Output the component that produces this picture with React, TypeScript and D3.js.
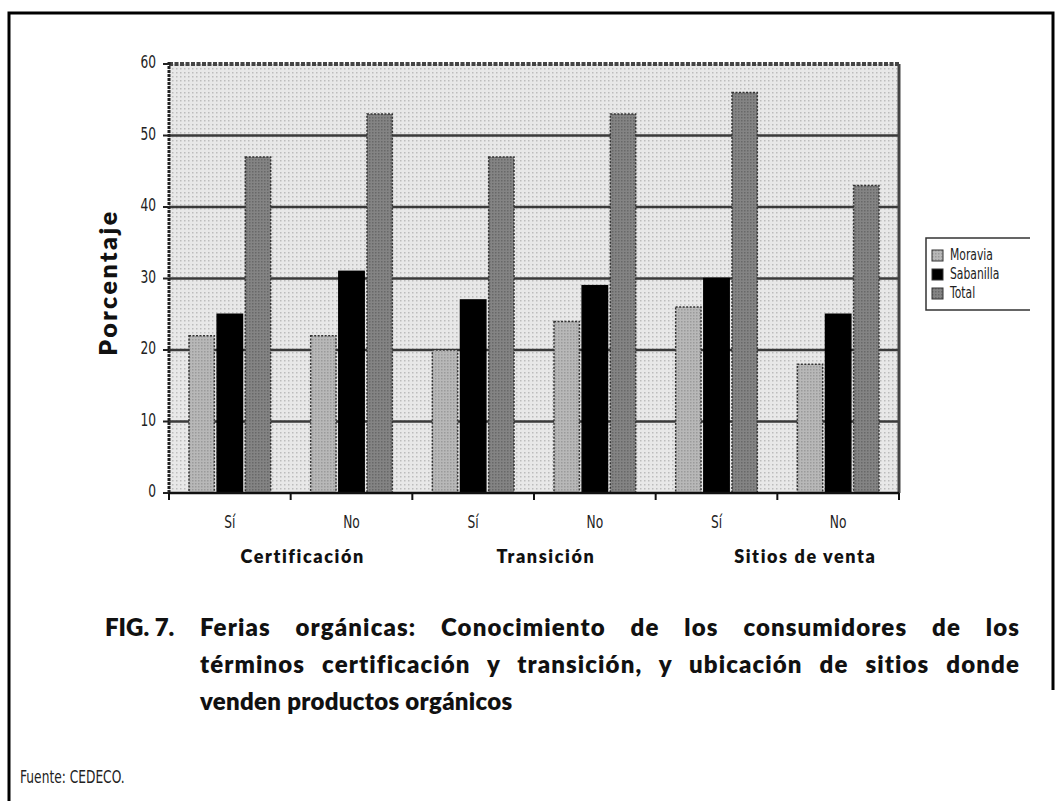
import React, { useEffect, useRef } from "react";
import * as d3 from "d3";

// chart data
const categories = ["Sí", "No", "Sí", "No", "Sí", "No"];
const groups = ["Certificación", "Transición", "Sitios de venta"];
const seriesNames = ["Moravia", "Sabanilla", "Total"];
const moravia = [22, 22, 20, 24, 26, 18];
const sabanilla = [25, 31, 27, 29, 30, 25];
const total = [47, 53, 47, 53, 56, 43];
const yTicks = [0, 10, 20, 30, 40, 50, 60];

const captionLines = [
  "Ferias orgánicas: Conocimiento de los consumidores de los",
  "términos certificación y transición, y ubicación de sitios donde",
  "venden productos orgánicos",
];

const plain = "'DejaVu Sans', 'Liberation Sans', sans-serif";
const bold = "Lato, 'Open Sans', 'DejaVu Sans', sans-serif";

const App = () => {
  const svgRef = useRef(null);

  useEffect(() => {
    document.body.style.margin = "0";
    const svg = d3.select(svgRef.current);
    svg.selectAll("*").remove();

    const W = 1062, H = 801;
    const plot = { left: 169, right: 899, top: 64, bottom: 493 };

    // squeezed text, the source uses a narrow face
    const narrowText = (sel, x, y, txt, size, anchor, sx) =>
      sel.append("text")
        .attr("transform", `translate(${x},${y}) scale(${sx},1)`)
        .attr("dy", "0.35em")
        .attr("text-anchor", anchor)
        .style("font-family", plain)
        .style("font-size", size + "px")
        .style("fill", "#222")
        .text(txt);

    // patterns to fake the dithered fills
    const defs = svg.append("defs");
    const mkPattern = (id, bg, dot, size) => {
      const p = defs.append("pattern")
        .attr("id", id)
        .attr("width", size)
        .attr("height", size)
        .attr("patternUnits", "userSpaceOnUse");
      p.append("rect").attr("width", size).attr("height", size).attr("fill", bg);
      p.append("rect").attr("width", 1.5).attr("height", 1.5).attr("fill", dot);
    };
    mkPattern("bgDots", "#e8e8e8", "#bcbcbc", 4);
    mkPattern("moraviaDots", "#b8b8b8", "#9a9a9a", 3);
    mkPattern("totalDots", "#848484", "#686868", 3);
    const fills = ["url(#moraviaDots)", "#000", "url(#totalDots)"];

    svg.append("rect").attr("width", W).attr("height", H).attr("fill", "#fff");

    // outer frame
    svg.append("path")
      .attr("d", `M9,801 L9,13 L1053,13 L1053,690`)
      .attr("fill", "none")
      .attr("stroke", "#000")
      .attr("stroke-width", 3);

    const x0 = d3.scaleBand()
      .domain(categories.map((c, i) => i))
      .range([plot.left, plot.right]);
    const x1 = d3.scaleBand()
      .domain(seriesNames)
      .range([20, x0.bandwidth() - 20])
      .paddingInner(0.1);
    const y = d3.scaleLinear().domain([0, 60]).range([plot.bottom, plot.top]);

    // plot background
    svg.append("rect")
      .attr("x", plot.left)
      .attr("y", plot.top)
      .attr("width", plot.right - plot.left)
      .attr("height", plot.bottom - plot.top)
      .attr("fill", "url(#bgDots)");

    // gridlines
    svg.append("g")
      .selectAll("line")
      .data(yTicks.filter((t) => t > 0 && t < 60))
      .join("line")
      .attr("x1", plot.left)
      .attr("x2", plot.right)
      .attr("y1", (d) => y(d))
      .attr("y2", (d) => y(d))
      .attr("stroke", "#3a3a3a")
      .attr("stroke-width", 2.5);

    // frame of plot area
    svg.append("line")
      .attr("x1", plot.left).attr("x2", plot.right)
      .attr("y1", plot.top).attr("y2", plot.top)
      .attr("stroke", "#444").attr("stroke-width", 4)
      .attr("stroke-dasharray", "4,1.5");
    svg.append("line")
      .attr("x1", plot.right).attr("x2", plot.right)
      .attr("y1", plot.top).attr("y2", plot.bottom)
      .attr("stroke", "#444").attr("stroke-width", 3);

    // bars
    const values = [moravia, sabanilla, total];
    const barData = [];
    categories.forEach((c, i) => {
      seriesNames.forEach((s, j) => {
        barData.push({ cat: i, series: s, idx: j, value: values[j][i] });
      });
    });

    svg.append("g")
      .selectAll("rect")
      .data(barData)
      .join("rect")
      .attr("x", (d) => x0(d.cat) + x1(d.series))
      .attr("y", (d) => y(d.value))
      .attr("width", x1.bandwidth())
      .attr("height", (d) => y(0) - y(d.value))
      .attr("fill", (d) => fills[d.idx])
      .attr("stroke", (d) => (d.idx === 1 ? "#000" : "#333"))
      .attr("stroke-width", 1.5)
      .attr("stroke-dasharray", (d) => (d.idx === 1 ? null : "2,1.5"));

    // y axis
    svg.append("line")
      .attr("x1", plot.left).attr("x2", plot.left)
      .attr("y1", plot.top - 2).attr("y2", plot.bottom)
      .attr("stroke", "#222").attr("stroke-width", 3)
      .attr("stroke-dasharray", "3,1");
    const yAxis = svg.append("g");
    yAxis.selectAll("line")
      .data(yTicks)
      .join("line")
      .attr("x1", plot.left - 6)
      .attr("x2", plot.left)
      .attr("y1", (d) => y(d))
      .attr("y2", (d) => y(d))
      .attr("stroke", "#222")
      .attr("stroke-width", 2);
    yTicks.forEach((t) => narrowText(yAxis, plot.left - 13, y(t) - 2, t, 18, "end", 0.68));

    svg.append("text")
      .attr("transform", `translate(117,${(plot.top + plot.bottom) / 2 + 4}) rotate(-90)`)
      .attr("text-anchor", "middle")
      .style("font-family", bold)
      .style("font-weight", 800)
      .style("font-size", "25px")
      .style("letter-spacing", "2.5px")
      .style("fill", "#111")
      .text("Porcentaje");

    // x axis
    svg.append("line")
      .attr("x1", plot.left).attr("x2", plot.right)
      .attr("y1", plot.bottom).attr("y2", plot.bottom)
      .attr("stroke", "#111").attr("stroke-width", 2.5);
    const bounds = d3.range(categories.length + 1).map((k) => plot.left + k * x0.step());
    svg.append("g")
      .selectAll("line")
      .data(bounds)
      .join("line")
      .attr("x1", (d) => d).attr("x2", (d) => d)
      .attr("y1", plot.bottom).attr("y2", plot.bottom + 7)
      .attr("stroke", "#111").attr("stroke-width", 2);
    const xLab = svg.append("g");
    categories.forEach((c, i) =>
      narrowText(xLab, x0(i) + x0.bandwidth() / 2, 522, c, 17, "middle", 0.72)
    );
    svg.append("g")
      .selectAll("text")
      .data(groups)
      .join("text")
      .attr("x", (d, i) => x0(i * 2 + 1) + (i === 2 ? 28 : 12))
      .attr("y", 563)
      .attr("text-anchor", "middle")
      .style("font-family", bold)
      .style("font-weight", 800)
      .style("font-size", "18px")
      .style("letter-spacing", "1.6px")
      .style("fill", "#111")
      .text((d) => d);

    // legend
    const lg = svg.append("g").attr("transform", "translate(926,238)");
    lg.append("path")
      .attr("d", "M104,0 L0,0 L0,72 L104,72")
      .attr("fill", "none")
      .attr("stroke", "#333")
      .attr("stroke-width", 1.5);
    seriesNames.forEach((s, i) => {
      const it = lg.append("g").attr("transform", `translate(6,${18 + i * 19})`);
      it.append("rect")
        .attr("x", 0).attr("y", -6)
        .attr("width", 11).attr("height", 11)
        .attr("fill", fills[i])
        .attr("stroke", "#333")
        .attr("stroke-width", 1);
      narrowText(it, 18, -1, s, 15, "start", 0.72);
    });

    // caption, lines 1-2 justified like the printed page
    const cap = svg.append("g").style("font-family", bold).style("font-weight", 800)
      .style("font-size", "24px").style("fill", "#111");
    cap.append("text").attr("x", 105).attr("y", 636).text("FIG. 7.");
    cap.selectAll("text.line")
      .data(captionLines)
      .join("text")
      .attr("class", "line")
      .attr("x", 200)
      .attr("y", (d, i) => 636 + i * 37)
      .style("letter-spacing", (d, i) => (i < 2 ? "1.1px" : "0.3px"))
      .text((d) => d)
      .each(function (d, i) {
        if (i > 1) return;
        const w = this.getComputedTextLength();
        const gaps = d.split(" ").length - 1;
        d3.select(this).style("word-spacing", Math.max(0, (820 - w) / gaps) + "px");
      });

    narrowText(svg, 20, 777, "Fuente: CEDECO.", 17, "start", 0.72);

    return () => {
      svg.selectAll("*").remove();
    };
  }, []);

  return (
    <svg
      ref={svgRef}
      width={1062}
      height={801}
      style={{ position: "absolute", top: 0, left: 0, display: "block" }}
    ></svg>
  );
};

export default App;
